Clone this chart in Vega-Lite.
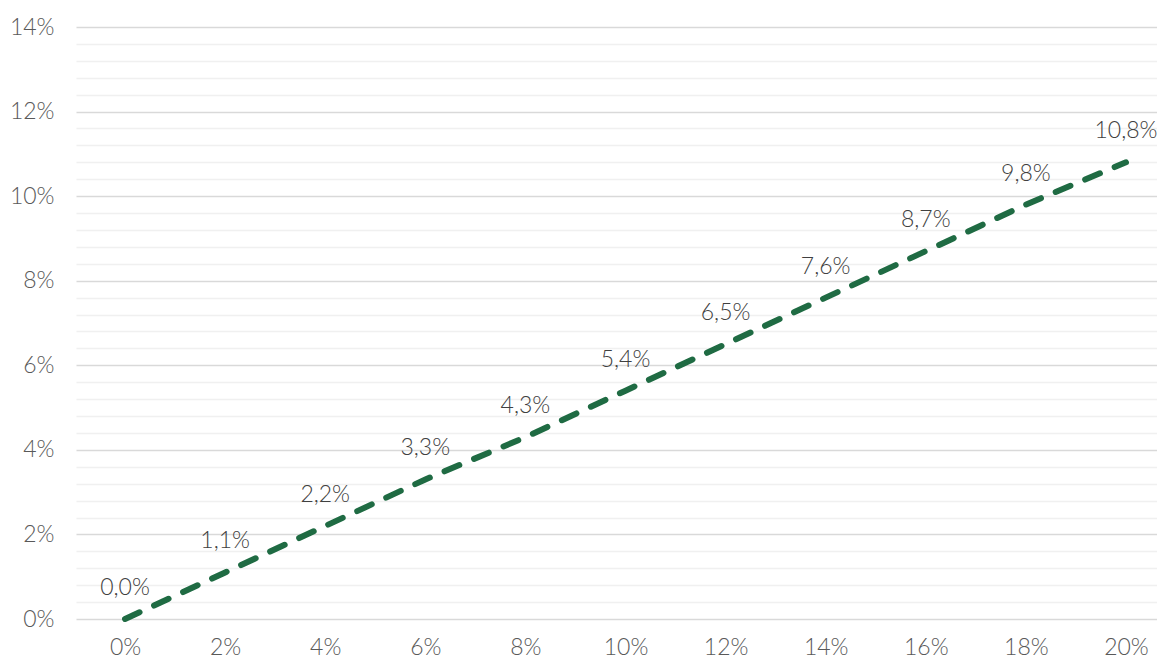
{
  "$schema": "https://vega.github.io/schema/vega-lite/v6.json",
  "width": 1081,
  "height": 592,
  "autosize": {"type": "none"},
  "padding": {"left": 76, "top": 27, "right": 0, "bottom": 41},
  "background": "white",
  "config": {
    "view": {"stroke": null},
    "locale": {"number": {"decimal": ",", "thousands": ".", "grouping": [3], "currency": ["", " €"]}},
    "font": "Lato"
  },
  "data": {
    "values": [
      {"x": 0.00, "y": 0.000},
      {"x": 0.02, "y": 0.011},
      {"x": 0.04, "y": 0.022},
      {"x": 0.06, "y": 0.033},
      {"x": 0.08, "y": 0.043},
      {"x": 0.10, "y": 0.054},
      {"x": 0.12, "y": 0.065},
      {"x": 0.14, "y": 0.076},
      {"x": 0.16, "y": 0.087},
      {"x": 0.18, "y": 0.098},
      {"x": 0.20, "y": 0.108}
    ]
  },
  "encoding": {
    "x": {
      "field": "x", "type": "quantitative",
      "scale": {"domain": [-0.0098, 0.2062], "nice": false, "zero": false},
      "axis": {
        "title": null, "values": [0, 0.02, 0.04, 0.06, 0.08, 0.1, 0.12, 0.14, 0.16, 0.18, 0.2],
        "format": ".0%", "grid": false, "domain": false, "ticks": false,
        "labelFontSize": 23, "labelColor": "#595959", "labelPadding": 17, "labelFont": "Lato", "labelFontWeight": 300
      }
    },
    "y": {
      "field": "y", "type": "quantitative",
      "scale": {"domain": [0, 0.14], "nice": false},
      "axis": {
        "title": null,
        "values": [0,0.004,0.008,0.012,0.016,0.02,0.024,0.028,0.032,0.036,0.04,0.044,0.048,0.052,0.056,0.06,0.064,0.068,0.072,0.076,0.08,0.084,0.088,0.092,0.096,0.1,0.104,0.108,0.112,0.116,0.12,0.124,0.128,0.132,0.136,0.14],
        "format": ".0%",
        "labelExpr": "round(datum.value*1000) % 20 === 0 ? datum.label : ''",
        "grid": true,
        "gridColor": {"condition": {"test": "round(datum.value*1000) % 20 === 0", "value": "#d9d9d9"}, "value": "#f0f0f0"},
        "gridWidth": 1.5,
        "domain": false, "ticks": false,
        "labelFontSize": 23, "labelColor": "#595959", "labelPadding": 22, "labelFont": "Lato", "labelFontWeight": 300
      }
    }
  },
  "layer": [
    {
      "mark": {"type": "line", "color": "#1f6b43", "strokeWidth": 6, "strokeDash": [16, 16], "strokeCap": "round"}
    },
    {
      "mark": {"type": "text", "dy": -31, "fontSize": 23, "color": "#404040", "font": "Lato", "fontWeight": 300},
      "encoding": {"text": {"field": "y", "type": "quantitative", "format": ".1%"}}
    }
  ]
}
